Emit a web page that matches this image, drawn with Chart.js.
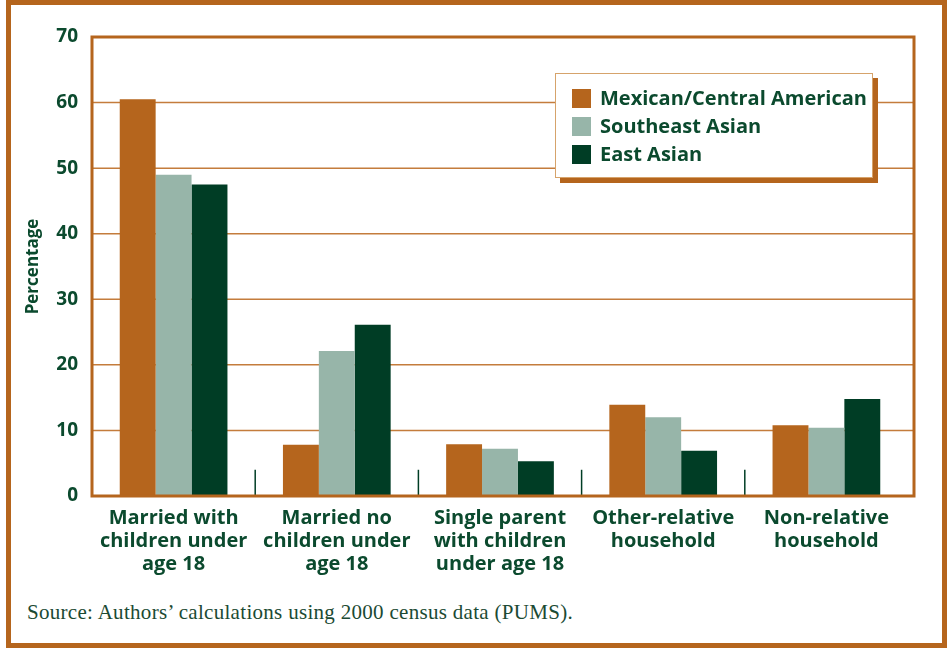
<!DOCTYPE html>
<html>
<head>
<meta charset="utf-8">
<script src="https://cdn.jsdelivr.net/npm/chart.js@4.4.1/dist/chart.umd.min.js"></script>
<style>
    html, body { margin: 0; padding: 0; background: #fff; }
    #frame {
        position: absolute; left: 6px; top: 0; width: 931px; height: 638px;
        border: 5px solid #b5651d;
    }
    #myChart { position: absolute; left: 0; top: 0; }
    #legend {
        position: absolute; left: 555px; top: 73px; width: 316px; height: 103px;
        background: #fff; border: 1px solid #d6a36b;
        box-shadow: 5px 5px 0 #b5651d;
        font-family: "Open Sans", sans-serif; font-weight: bold; font-size: 20px; color: #0b4a2e;
    }
    #legend div { position: absolute; left: 16px; height: 24px; line-height: 24px; white-space: nowrap; }
    #legend span { display: inline-block; width: 19px; height: 19px; vertical-align: -3px; margin-right: 9px; }
    #source {
        position: absolute; left: 27px; top: 600px;
        font-family: "Liberation Serif", serif; font-size: 21px; letter-spacing: 0.3px; color: #1b4a33;
    }
</style>
</head>
<body>
<div id="frame"></div>
<canvas id="myChart" width="947" height="600"></canvas>
<div id="legend"></div>
<div id="source">Source: Authors’ calculations using 2000 census data (PUMS).</div>
<script>
// categories (one array per label line)
const categories = [
    ['Married with', 'children under', 'age 18'],
    ['Married no', 'children under', 'age 18'],
    ['Single parent', 'with children', 'under age 18'],
    ['Other-relative', 'household'],
    ['Non-relative', 'household']
];

const seriesNames = ['Mexican/Central American', 'Southeast Asian', 'East Asian'];
const mexicanCentral = [60.5, 7.8, 7.9, 13.9, 10.8];
const southeastAsian = [49.0, 22.1, 7.2, 12.0, 10.4];
const eastAsian = [47.5, 26.1, 5.3, 6.9, 14.8];
const yTicks = [0, 10, 20, 30, 40, 50, 60, 70];

const orange = '#b5651d';
const sage = '#97b5a9';
const darkGreen = '#003d25';
const textGreen = '#0b4a2e';
const colors = [orange, sage, darkGreen];

// el marc sobresurt una mica per la dreta de l'ultima categoria
const extraRight = 6;

// linies de la graella (fins al marc)
const gridPlugin = {
    id: 'gridPlugin',
    beforeDatasetsDraw(chart) {
        const { ctx, chartArea, scales } = chart;
        ctx.save();
        ctx.strokeStyle = '#c47c3c';
        ctx.lineWidth = 1.5;
        yTicks.forEach((v) => {
            const y = scales.y.getPixelForValue(v);
            ctx.beginPath();
            ctx.moveTo(chartArea.left, y);
            ctx.lineTo(chartArea.right + extraRight, y);
            ctx.stroke();
        });
        ctx.restore();
    }
};

// marc del grafic + separadors entre categories
const framePlugin = {
    id: 'framePlugin',
    afterDatasetsDraw(chart) {
        const { ctx, chartArea, scales } = chart;
        ctx.save();
        ctx.strokeStyle = darkGreen;
        ctx.lineWidth = 1.5;
        for (let i = 0; i < categories.length - 1; i++) {
            const x = (scales.x.getPixelForValue(i) + scales.x.getPixelForValue(i + 1)) / 2;
            ctx.beginPath();
            ctx.moveTo(x, scales.y.getPixelForValue(4));
            ctx.lineTo(x, chartArea.bottom);
            ctx.stroke();
        }
        ctx.strokeStyle = orange;
        ctx.lineWidth = 3;
        ctx.strokeRect(chartArea.left, chartArea.top,
            chartArea.right + extraRight - chartArea.left, chartArea.bottom - chartArea.top);
        ctx.restore();
    }
};

const datasets = [mexicanCentral, southeastAsian, eastAsian].map((values, i) => ({
    label: seriesNames[i],
    data: values,
    backgroundColor: colors[i],
    borderWidth: 0,
    barPercentage: 1,
    categoryPercentage: 0.66
}));

const ctx = document.getElementById('myChart').getContext('2d');
const chart = new Chart(ctx, {
    type: 'bar',
    data: { labels: categories, datasets: datasets },
    options: {
        responsive: false,
        animation: false,
        layout: { padding: { left: 9, top: 37, right: 33 + extraRight, bottom: 0 } },
        plugins: { legend: { display: false }, tooltip: { enabled: false } },
        scales: {
            x: {
                grid: { display: false },
                border: { display: false },
                ticks: {
                    color: textGreen,
                    padding: 3,
                    maxRotation: 0,
                    font: { family: 'Open Sans', weight: 'bold', size: 20, lineHeight: 1.15 }
                },
                afterFit: (scale) => { scale.height = 104; }
            },
            y: {
                min: 0,
                max: 70,
                afterBuildTicks: (scale) => { scale.ticks = yTicks.map((v) => ({ value: v })); },
                grid: { display: false },
                border: { display: false },
                ticks: {
                    color: textGreen,
                    padding: 6,
                    font: { family: 'Open Sans', weight: 'bold', size: 19 }
                },
                title: {
                    display: true,
                    text: 'Percentage',
                    color: textGreen,
                    padding: { top: 14, bottom: 0 },
                    font: { family: 'Open Sans', weight: 'bold', size: 17 }
                },
                afterFit: (scale) => { scale.width = 83; }
            }
        }
    },
    plugins: [gridPlugin, framePlugin]
});

// llegenda en HTML a partir dels datasets
const legend = document.getElementById('legend');
chart.data.datasets.forEach((ds, i) => {
    const item = document.createElement('div');
    item.style.top = (12 + i * 28) + 'px';
    item.innerHTML = `<span style="background:${ds.backgroundColor}"></span>${ds.label}`;
    legend.appendChild(item);
});
</script>
</body>
</html>
